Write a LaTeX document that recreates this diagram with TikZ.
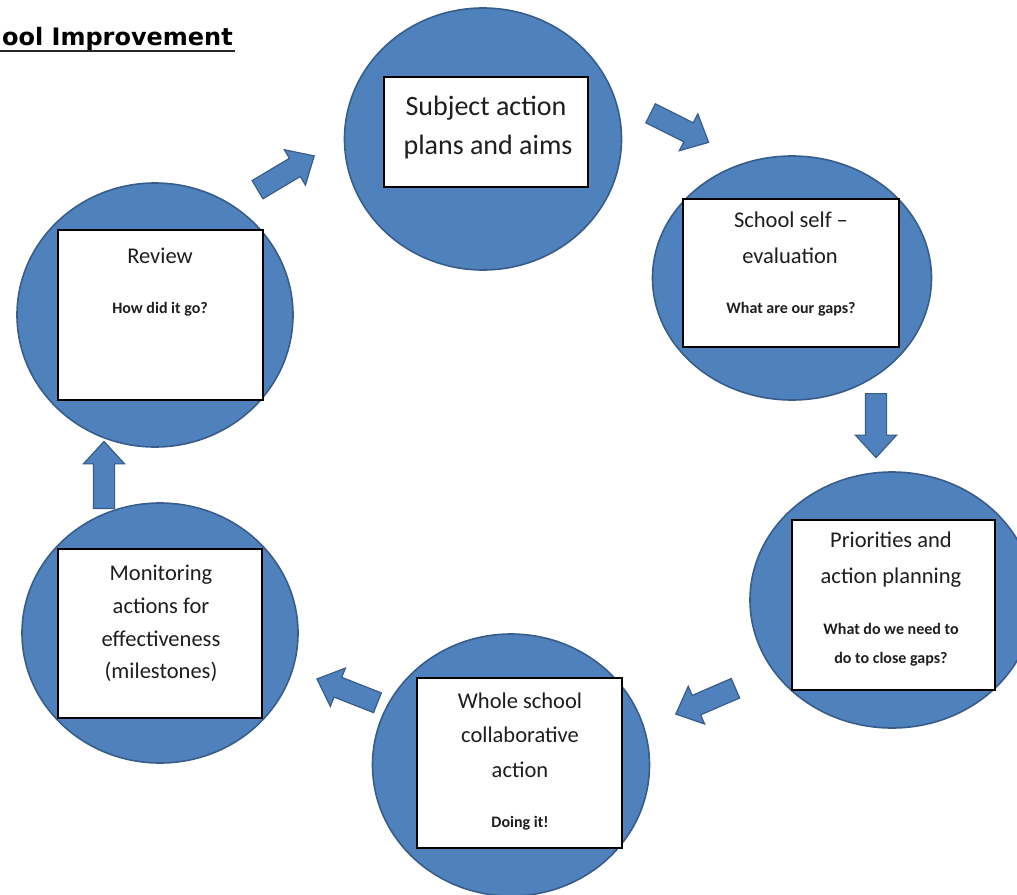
\documentclass[tikz,border=0pt]{standalone}
\usepackage{fontspec}
\setmainfont{Carlito}
\newfontfamily\titlefont{DejaVu Sans}
\usetikzlibrary{shapes.geometric,shapes.arrows}
\definecolor{cfill}{HTML}{4F81BD}
\definecolor{cline}{HTML}{385D8A}
\definecolor{ink}{HTML}{1E1E1E}
\tikzset{
  bubble/.style={ellipse, draw=cline, fill=cfill, line width=1.6pt, inner sep=0pt},
  card/.style={rectangle, draw=black, fill=white, line width=1.8pt, inner sep=0pt},
  blockarrow/.style={single arrow, draw=cline, fill=cfill, line width=1.2pt, inner xsep=0pt, inner ysep=10pt,
     minimum width=40pt, single arrow head extend=10pt, single arrow tip angle=85, anchor=tail},
  big/.style={anchor=base, text=ink, font=\fontsize{28}{34}\selectfont},
  head/.style={anchor=base, text=ink, font=\fontsize{22.5}{27}\selectfont},
  sub/.style={anchor=base, text=ink, font=\bfseries\fontsize{16}{20}\selectfont},
}
\begin{document}
\begin{tikzpicture}[x=1pt, y=-1pt]
\useasboundingbox (0,0) rectangle (1017,894);
\clip (0,0) rectangle (1017,894);

% title
\node[anchor=base east, inner sep=0pt, font=\titlefont\bfseries\fontsize{24}{28}\selectfont] (title) at (233,45) {School Improvement};
\coordinate (ulL) at (0,50.5);
\coordinate (ulR) at (235,50.5);
\draw[line width=2pt, black!85] (ulL) -- (ulR);

% bubbles
\node[bubble, minimum width=277pt, minimum height=262pt] (c1) at (483,139) {};
\node[bubble, minimum width=279pt, minimum height=244pt] (c2) at (792,278) {};
\node[bubble, minimum width=284pt, minimum height=256pt] (c3) at (892,600) {};
\node[bubble, minimum width=277pt, minimum height=262pt] (c4) at (511,765) {};
\node[bubble, minimum width=276pt, minimum height=260pt] (c5) at (160,633) {};
\node[bubble, minimum width=276pt, minimum height=264pt] (c6) at (155,315) {};

% cards
\node[card, minimum width=204pt, minimum height=110pt] (b1) at (486,132) {};
\node[card, minimum width=216pt, minimum height=148pt] (b2) at (791,273) {};
\node[card, minimum width=203pt, minimum height=170pt] (b3) at (893.5,605) {};
\node[card, minimum width=205pt, minimum height=170pt] (b4) at (519.5,763) {};
\node[card, minimum width=204pt, minimum height=169pt] (b5) at (160,633.5) {};
\node[card, minimum width=205pt, minimum height=170pt] (b6) at (160.5,315) {};

% texts
\node[big] (t1a) at (486,115) {Subject action};
\node[big] (t1b) at (488,154) {plans and aims};

\node[head] (t2a) at (791,227) {School self --};
\node[head] (t2b) at (790,263) {evaluation};
\node[sub]  (t2c) at (791,313) {What are our gaps?};

\node[head] (t3a) at (891,547) {Priorities and};
\node[head] (t3b) at (891,583) {action planning};
\node[sub]  (t3c) at (891,634) {What do we need to};
\node[sub]  (t3d) at (891,663) {do to close gaps?};

\node[head] (t4a) at (520,708) {Whole school};
\node[head] (t4b) at (520,742) {collaborative};
\node[head] (t4c) at (520,777) {action};
\node[sub]  (t4d) at (520,827) {Doing it!};

\node[head] (t5a) at (161,580) {Monitoring};
\node[head] (t5b) at (161,613) {actions for};
\node[head] (t5c) at (161,646) {effectiveness};
\node[head] (t5d) at (161,678) {(milestones)};

\node[head] (t6a) at (160,263) {Review};
\node[sub]  (t6b) at (160,313) {How did it go?};

% block arrows
\node[blockarrow, minimum height=66pt, rotate=30.8]  (a1) at (257,190) {};
\node[blockarrow, minimum height=65pt, rotate=-26.6] (a2) at (650,113) {};
\node[blockarrow, minimum height=64pt, rotate=-90]   (a3) at (876,393) {};
\node[blockarrow, minimum height=65pt, rotate=203.4] (a4) at (736,688) {};
\node[blockarrow, minimum height=65pt, rotate=158.5] (a5) at (378,703) {};
\node[blockarrow, minimum height=67pt, rotate=90]    (a6) at (104,509) {};
\end{tikzpicture}
\end{document}
